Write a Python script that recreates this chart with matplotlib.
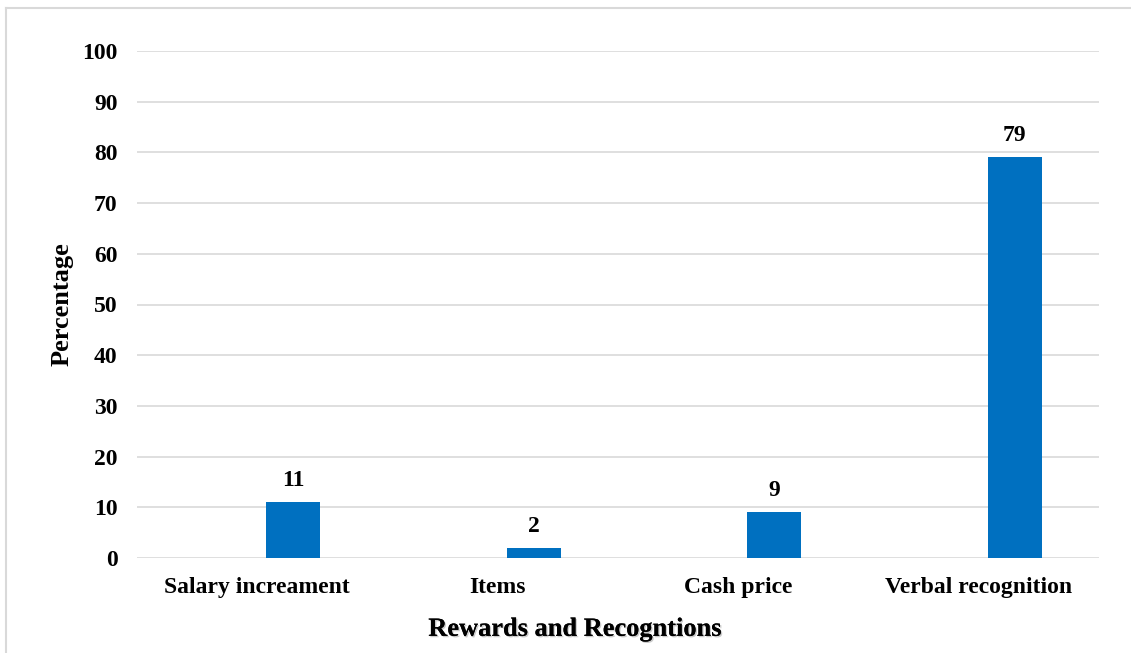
import matplotlib
matplotlib.use("Agg")
import matplotlib.pyplot as plt
import matplotlib.patheffects as pe
from matplotlib.lines import Line2D
import numpy as np

categories = ["Salary increament", "Items", "Cash price", "Verbal recognition"]
values = [11, 2, 9, 79]
yticks = [0, 10, 20, 30, 40, 50, 60, 70, 80, 90, 100]

plt.rcParams['font.family'] = ['Liberation Serif', 'DejaVu Serif']
plt.rcParams['font.weight'] = 'bold'

fig = plt.figure(figsize=(11.31, 6.53), dpi=100)
ax = fig.add_axes([137/1131, 1-558/653, (1099-137)/1131, (558-51)/653])

x = np.arange(len(categories))
offset = 0.15
width = 0.225
bars = ax.bar(x + offset, values, width=width, color="#0070C0", zorder=3)

for xi, v in zip(x, values):
    ax.annotate(f"{v}", (xi + offset, v), xytext=(0, 8), textcoords="offset points",
                ha="center", va="bottom", fontsize=17, fontweight="bold")

ax.set_xlim(-0.5, len(categories) - 0.5)
ax.set_ylim(0, 100)
ax.set_yticks(yticks)
ax.set_xticks(x)
ax.set_xticklabels(categories, fontsize=17, fontweight="bold")
ax.tick_params(axis="y", labelsize=17, length=0, pad=14)
ax.tick_params(axis="x", length=0, pad=14)
for lab in ax.get_yticklabels():
    lab.set_fontweight("bold")
ax.grid(axis="y", color="#d9d9d9", linewidth=1.2, zorder=0)
for s in ax.spines.values():
    s.set_visible(False)

ax.set_ylabel("Percentage", fontsize=19, fontweight="bold", labelpad=6)
xl = ax.set_xlabel("Rewards and Recogntions", fontsize=19, fontweight="bold")
ax.xaxis.set_label_coords(0.455, -0.118)
xl.set_path_effects([pe.withSimplePatchShadow(offset=(1, -1), shadow_rgbFace="#999999", alpha=0.5), pe.Normal()])

# outer chart border (top and left visible)
fig.add_artist(Line2D([6/1131, 6/1131], [0, 1-8/653], color="#d9d9d9", linewidth=1.5, transform=fig.transFigure))
fig.add_artist(Line2D([6/1131, 1], [1-8/653, 1-8/653], color="#d9d9d9", linewidth=1.5, transform=fig.transFigure))

fig.savefig("out.png", dpi=100)
